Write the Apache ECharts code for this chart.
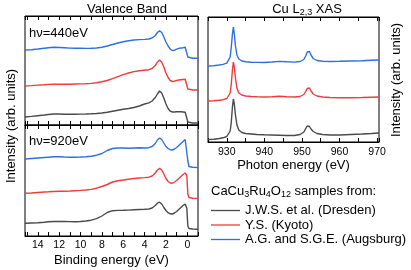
<!DOCTYPE html>
<html><head><meta charset="utf-8">
<script src="https://cdn.jsdelivr.net/npm/echarts@6/dist/echarts.min.js"></script>
<style>html,body{margin:0;padding:0;background:#fff}#c{width:411px;height:270px}</style>
</head><body><div id="c"></div>
<script>
// ---------- Valence band data (binding energy, eV) ----------
const vbEnergy = [15.2, 14.6, 14, 13.4, 13, 12.5, 12, 11.5, 11, 10.5, 10, 9.5, 9, 8.5, 8, 7.5, 7, 6.5, 6, 5.5, 5, 4.5, 4, 3.6, 3.3, 3.0, 2.8, 2.6, 2.4, 2.2, 2.0, 1.8, 1.6, 1.4, 1.2, 1.0, 0.8, 0.6, 0.4, 0.2, 0.05, -0.05, -0.15, -0.5, -1.0];
// hv = 440 eV
const vb440Augsburg = [75, 75.3, 76, 76.8, 77.3, 77.8, 77.5, 77.2, 76.9, 76.8, 76.7, 76.6, 76.7, 77, 77.8, 79, 80.5, 82, 83.2, 84.2, 85, 85.4, 85.6, 86, 87, 89.5, 92.5, 94.3, 92.5, 88, 83, 79, 76, 74.5, 74.8, 75.8, 76.6, 77, 77.3, 77.7, 77, 68, 67, 66.8, 66.7];
const vb440Kyoto = [39, 39.4, 39.9, 40.3, 40.6, 40.8, 40.8, 40.7, 40.8, 41, 41.1, 41.3, 41.6, 42.2, 43.3, 44.5, 46.3, 48.3, 50.3, 52, 53.4, 54.2, 54.8, 55.3, 56.5, 59.5, 62.8, 65, 63, 58, 52, 47.5, 44.5, 43.5, 43.8, 44.5, 45, 45.3, 45.5, 45.7, 45, 36, 35.2, 35, 35];
const vb440Dresden = [8, 8.6, 9.3, 10, 10.5, 11, 11, 10.8, 10.7, 10.8, 10.9, 11, 11.2, 11.5, 12, 12.8, 13.8, 14.8, 15.7, 16.5, 17.5, 19, 21, 22.2, 24, 27.5, 31, 34, 32, 27, 21, 16.5, 13.8, 13, 13, 13.2, 13.3, 13.2, 13, 12.8, 12, 3, 2.2, 2, 2];
// hv = 920 eV
const vb920Augsburg = [77, 77.5, 78, 78.5, 78.8, 79.2, 79.3, 79, 78.8, 78.8, 79, 79.3, 79.8, 80.8, 82.5, 85.5, 87.5, 88, 88, 87.8, 88, 88.2, 88, 88.3, 89.5, 92.5, 96, 98, 96.5, 93, 89.5, 87.5, 86.3, 86, 87, 88.5, 90.5, 92.5, 94.5, 96.5, 95, 75, 69.5, 68.8, 68.5];
const vb920Kyoto = [42.7, 43, 43.5, 44, 44.2, 44.5, 44.7, 44.8, 45, 45.3, 45.6, 46, 46.6, 47.8, 49.5, 51.5, 54, 55.3, 56, 56.8, 57.5, 58, 58.4, 58.8, 60, 63, 66, 67.7, 66, 62, 57.5, 54.5, 53, 52.8, 54, 55.5, 57.5, 59.5, 61.5, 63, 60.5, 42, 38.5, 37.8, 37.5];
const vb920Dresden = [12.7, 13, 13.3, 13.8, 14.2, 14.5, 14.6, 14.5, 14.4, 14.3, 14.5, 15, 15.8, 17.3, 20, 23.5, 25.3, 25.6, 25.7, 25.9, 26.2, 26.5, 26.7, 27, 28, 30.5, 32.8, 33.8, 32, 28.5, 25.5, 23.3, 22.2, 22, 23, 24.5, 26.5, 28.5, 30.5, 32, 28, 10, 7.5, 7, 6.8];

// ---------- Cu L2,3 XAS data (photon energy, eV) ----------
const xasEnergy = [925, 926.5, 928, 929, 930, 930.5, 930.9, 931.2, 931.5, 931.75, 932, 932.3, 932.7, 933.2, 934, 935, 936.5, 938, 940, 942, 944, 946, 948, 949.5, 950.5, 951, 951.4, 951.7, 952, 952.4, 953, 954, 955.5, 957.5, 960, 963, 966, 968.5, 970.5];
const xasAugsburg = [76, 76.3, 77, 77.6, 78.8, 80.5, 85, 95, 108, 115, 108, 96, 87, 83, 81, 80.3, 79.8, 79.6, 79.5, 80, 80.6, 80.2, 79.9, 80.5, 82.5, 86, 90, 92, 90.5, 87, 83.5, 81.5, 80.7, 80.5, 80.7, 81, 81.3, 81.8, 82];
const xasKyoto = [41, 41.2, 41.7, 42.3, 43.5, 45, 49, 58, 72, 80, 75, 64, 54, 49, 47, 46, 45.5, 45.2, 45, 45.3, 45.8, 45.3, 45, 45.5, 47.5, 50.5, 53.5, 55, 54, 51, 48, 46, 45, 44.5, 44.3, 44.3, 44.5, 44.8, 45];
const xasDresden = [2.5, 2.8, 3.5, 4.2, 5.5, 7, 11, 20, 35, 43, 38, 27, 17, 12, 9.5, 8.5, 8, 7.5, 7.2, 7, 6.8, 6.5, 6.5, 7.5, 10, 13.5, 16, 17, 15.5, 13, 10.5, 8.5, 7.5, 7, 7, 7.5, 8, 8.5, 9];

// ---------- labels ----------
const sampleNames = ['J.W.S. et al. (Dresden)', 'Y.S. (Kyoto)', 'A.G. and S.G.E. (Augsburg)'];
const sampleColors = ['#4a4a4a', '#f03c3c', '#2f6fe0'];
const vbTickLabels = [0, 2, 4, 6, 8, 10, 12, 14];
const xasTickLabels = [930, 940, 950, 960, 970];

const FF = '"Liberation Sans", Arial, sans-serif';
const cv = document.createElement('canvas').getContext('2d');
function tw(t, s) { cv.font = s + 'px "Liberation Sans"'; return cv.measureText(t).width; }
function subRow(parts, x, yMid, size, subSize, align) {
  const total = parts.reduce((a, p) => a + tw(p[0], p[1] ? subSize : size), 0);
  let cx = align === 'center' ? x - total / 2 : x;
  const out = [];
  parts.forEach(p => {
    const s = p[1] ? subSize : size;
    out.push({ type: 'text', x: cx, y: yMid + (p[1] ? 4 : 0),
      style: { text: p[0], fontSize: s, fontFamily: FF, fill: '#000', align: 'left', verticalAlign: 'middle' } });
    cx += tw(p[0], s);
  });
  return out;
}

const pairs = (xs, ys) => xs.map((x, i) => [x, ys[i]]);

const axisBase = {
  type: 'value', splitLine: { show: false },
  axisLine: { show: true, onZero: false, lineStyle: { color: '#000', width: 1 } },
  axisTick: { show: true, inside: true, length: 4, lineStyle: { color: '#000', width: 1 } }
};
const vbAxis = Object.assign({}, axisBase, { inverse: true, min: -1, max: 15.2, interval: 1 });
const xasAxis = Object.assign({}, axisBase, { min: 925, max: 970.5, interval: 5 });
const noLabel = { show: false };
const vbLabel = { show: true, fontSize: 10.5, fontFamily: FF, color: '#000', margin: 4,
  formatter: v => vbTickLabels.includes(v) ? String(v) : '' };
const xasLabel = { show: true, fontSize: 10.5, fontFamily: FF, color: '#000', margin: 5,
  formatter: v => xasTickLabels.includes(v) ? String(v) : '' };

const xAxis = [
  Object.assign({}, vbAxis, { gridIndex: 0, position: 'bottom', axisLabel: noLabel }),
  Object.assign({}, vbAxis, { gridIndex: 0, position: 'top', axisLabel: noLabel }),
  Object.assign({}, vbAxis, { gridIndex: 1, position: 'bottom', axisLabel: vbLabel,
    name: 'Binding energy (eV)', nameLocation: 'middle', nameGap: 18,
    nameTextStyle: { fontSize: 13, fontFamily: FF, color: '#000', verticalAlign: 'top' } }),
  Object.assign({}, vbAxis, { gridIndex: 1, position: 'top', axisLabel: noLabel }),
  Object.assign({}, xasAxis, { gridIndex: 2, position: 'bottom', axisLabel: xasLabel,
    name: 'Photon energy (eV)', nameLocation: 'middle', nameGap: 17,
    nameTextStyle: { fontSize: 13, fontFamily: FF, color: '#000', verticalAlign: 'top' } }),
  Object.assign({}, xasAxis, { gridIndex: 2, position: 'top', axisLabel: noLabel })
];
const yBase = { type: 'value', min: 0, axisLine: { show: false }, axisTick: { show: false }, axisLabel: { show: false }, splitLine: { show: false } };
const yAxis = [
  Object.assign({}, yBase, { gridIndex: 0, max: 109 }),
  Object.assign({}, yBase, { gridIndex: 1, max: 111 }),
  Object.assign({}, yBase, { gridIndex: 2, max: 125 })
];

function mk(nameIdx, xi, yi, xs, ys) {
  return { type: 'line', name: sampleNames[nameIdx], xAxisIndex: xi, yAxisIndex: yi,
    data: pairs(xs, ys), symbol: 'none', showSymbol: false, smooth: false,
    lineStyle: { color: sampleColors[nameIdx], width: 1.4 }, itemStyle: { color: sampleColors[nameIdx] } };
}
const series = [
  mk(0, 0, 0, vbEnergy, vb440Dresden), mk(1, 0, 0, vbEnergy, vb440Kyoto), mk(2, 0, 0, vbEnergy, vb440Augsburg),
  mk(0, 2, 1, vbEnergy, vb920Dresden), mk(1, 2, 1, vbEnergy, vb920Kyoto), mk(2, 2, 1, vbEnergy, vb920Augsburg),
  mk(0, 4, 2, xasEnergy, xasDresden), mk(1, 4, 2, xasEnergy, xasKyoto), mk(2, 4, 2, xasEnergy, xasAugsburg)
];

const txt = (t, x, y, s, align, rot) => ({ type: 'text', x, y, rotation: rot || 0,
  style: { text: t, fontSize: s, fontFamily: FF, fill: '#000', align: align || 'left', verticalAlign: 'middle' } });

const graphic = [].concat(
  [txt('Valence Band', 127, 9.5, 13, 'center'),
   txt('hν=440eV', 29, 33, 13, 'left'),
   txt('hν=920eV', 29, 141.5, 13, 'left'),
   txt('Intensity (arb. units)', 11, 126, 13, 'center', Math.PI / 2),
   txt('Intensity (arb. units)', 396, 80, 13, 'center', Math.PI / 2)],
  subRow([['Cu L', 0], ['2,3', 1], [' XAS', 0]], 307, 9, 13, 9, 'center'),
  subRow([['CaCu', 0], ['3', 1], ['Ru', 0], ['4', 1], ['O', 0], ['12', 1], [' samples from:', 0]], 211, 191, 13, 9, 'left')
);

const chart = echarts.init(document.getElementById('c'), null, { renderer: 'canvas' });
chart.setOption({
  animation: false,
  backgroundColor: '#fff',
  grid: [
    { left: 25, top: 16, width: 173, height: 109, show: true, borderColor: '#000', borderWidth: 1, backgroundColor: 'transparent' },
    { left: 25, top: 125, width: 173, height: 111, show: true, borderColor: '#000', borderWidth: 1, backgroundColor: 'transparent' },
    { left: 208, top: 17, width: 171, height: 125, show: true, borderColor: '#000', borderWidth: 1, backgroundColor: 'transparent' }
  ],
  legend: { data: sampleNames, orient: 'vertical', left: 211, top: 204, itemWidth: 29, itemHeight: 14, itemGap: 1.5,
    padding: 0, selectedMode: false, icon: 'path://M0,0 L100,0 L100,4.5 L0,4.5 Z',
    textStyle: { fontSize: 13, fontFamily: FF, color: '#000' } },
  xAxis, yAxis, series, graphic
});
</script></body></html>
